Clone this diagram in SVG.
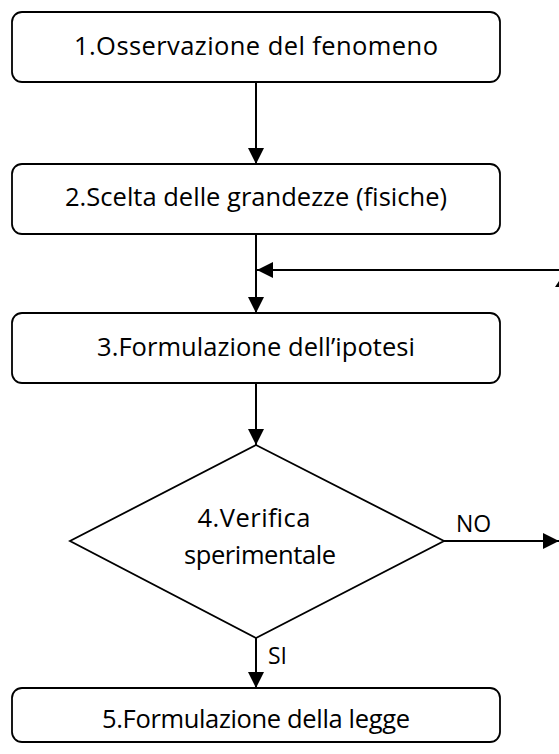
<svg xmlns="http://www.w3.org/2000/svg" width="559" height="754" viewBox="0 0 559 754">
<style>
.box{fill:#fff;stroke:#000;stroke-width:1.8}
.t{font-family:"Open Sans","Liberation Sans",sans-serif;font-size:25.5px;fill:#000;text-anchor:middle}
.s{font-family:"Open Sans","Liberation Sans",sans-serif;font-size:23px;fill:#000}
.c{stroke:#000;stroke-width:2;fill:none}
.h{fill:#000;stroke:none}
</style>
<defs>
<marker id="ah" markerWidth="16" markerHeight="16" viewBox="0 0 16 16" refX="16" refY="8" orient="auto" markerUnits="userSpaceOnUse">
<path d="M0,0 L16,8 L0,16 Z" fill="#000"/>
</marker>
</defs>
<rect width="559" height="754" fill="#fff"/>
<g id="connectors">
<line class="c" x1="256" y1="82" x2="256" y2="164" marker-end="url(#ah)"/>
<line class="c" x1="256" y1="234" x2="256" y2="313" marker-end="url(#ah)"/>
<line class="c" x1="559" y1="270" x2="257" y2="270" marker-end="url(#ah)"/>
<line class="c" x1="256" y1="383" x2="256" y2="445" marker-end="url(#ah)"/>
<line class="c" x1="444" y1="541" x2="559" y2="541" marker-end="url(#ah)"/>
<line class="c" x1="256" y1="638" x2="256" y2="688" marker-end="url(#ah)"/>
<polygon class="h" points="559,281 555,287 559,287"/>
<text class="s" x="456" y="532">NO</text>
<text class="s" x="268" y="664">SI</text>
</g>
<g id="n1">
<rect class="box" x="12" y="12" width="488" height="70" rx="10"/>
<text class="t" x="256" y="55" textLength="364">1.Osservazione del fenomeno</text>
</g>
<g id="n2">
<rect class="box" x="12" y="164" width="488" height="70" rx="10"/>
<text class="t" x="256" y="206" textLength="382">2.Scelta delle grandezze (fisiche)</text>
</g>
<g id="n3">
<rect class="box" x="12" y="313" width="488" height="70" rx="10"/>
<text class="t" x="256" y="356" textLength="318">3.Formulazione dell’ipotesi</text>
</g>
<g id="n4">
<polygon class="box" points="256,445 444,541 256,638 70,541"/>
<text class="t" x="254" y="527" textLength="113">4.Verifica</text>
<text class="t" x="260" y="564" textLength="152">sperimentale</text>
</g>
<g id="n5">
<rect class="box" x="12" y="688" width="488" height="54" rx="10"/>
<text class="t" x="256" y="728" textLength="308">5.Formulazione della legge</text>
</g>
</svg>
